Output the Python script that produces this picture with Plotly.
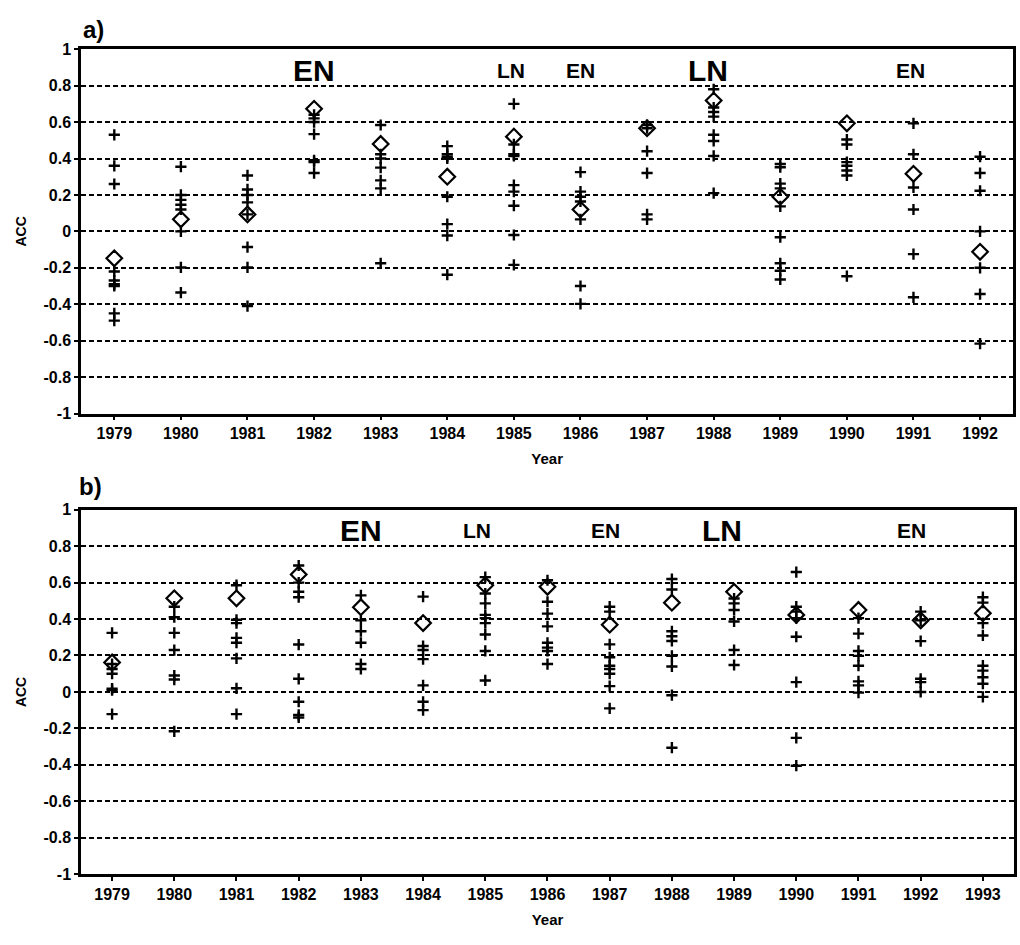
import plotly.graph_objects as go

# ---------------- data: panel a ----------------
years_a = [1979, 1980, 1981, 1982, 1983, 1984, 1985, 1986, 1987, 1988, 1989, 1990, 1991, 1992]
members_a = [
    [0.53, 0.36, 0.26, -0.22, -0.27, -0.29, -0.30, -0.45, -0.49],
    [0.355, 0.20, 0.173, 0.146, 0.12, 0.0, -0.198, -0.336],
    [0.307, 0.23, 0.20, 0.159, 0.093, -0.086, -0.198, -0.41],
    [0.64, 0.62, 0.60, 0.534, 0.39, 0.38, 0.32],
    [0.584, 0.423, 0.40, 0.35, 0.28, 0.236, -0.175],
    [0.468, 0.423, 0.41, 0.40, 0.19, 0.04, -0.023, -0.238],
    [0.70, 0.477, 0.423, 0.414, 0.254, 0.218, 0.141, -0.02, -0.184],
    [0.325, 0.218, 0.19, 0.164, 0.066, -0.30, -0.398],
    [0.584, 0.566, 0.44, 0.32, 0.093, 0.066],
    [0.78, 0.68, 0.655, 0.63, 0.53, 0.496, 0.414, 0.21],
    [0.37, 0.352, 0.262, 0.236, 0.137, -0.032, -0.175, -0.216, -0.264],
    [0.504, 0.477, 0.38, 0.36, 0.334, 0.307, -0.246],
    [0.593, 0.423, 0.241, 0.12, -0.125, -0.362],
    [0.41, 0.32, 0.223, 0.0, -0.20, -0.344, -0.616],
]
mean_a = [-0.148, 0.066, 0.093, 0.673, 0.48, 0.30, 0.52, 0.12, 0.566, 0.718, 0.19, 0.593, 0.316, -0.112]

# ---------------- data: panel b ----------------
years_b = [1979, 1980, 1981, 1982, 1983, 1984, 1985, 1986, 1987, 1988, 1989, 1990, 1991, 1992, 1993]
members_b = [
    [0.324, 0.153, 0.126, 0.10, 0.018, 0.01, -0.122],
    [0.468, 0.41, 0.324, 0.23, 0.09, 0.068, -0.216],
    [0.586, 0.396, 0.378, 0.297, 0.27, 0.184, 0.02, -0.122],
    [0.694, 0.60, 0.55, 0.52, 0.26, 0.072, -0.054, -0.126, -0.14],
    [0.53, 0.393, 0.333, 0.27, 0.153, 0.126],
    [0.523, 0.252, 0.23, 0.18, 0.036, -0.054, -0.10],
    [0.63, 0.54, 0.486, 0.423, 0.405, 0.378, 0.315, 0.225, 0.063],
    [0.613, 0.495, 0.43, 0.36, 0.27, 0.243, 0.225, 0.153],
    [0.468, 0.441, 0.261, 0.19, 0.144, 0.126, 0.10, 0.032, -0.09],
    [0.62, 0.562, 0.333, 0.306, 0.28, 0.198, 0.14, -0.018, -0.306],
    [0.513, 0.486, 0.45, 0.387, 0.23, 0.148],
    [0.658, 0.468, 0.441, 0.405, 0.303, 0.054, -0.252, -0.405],
    [0.405, 0.32, 0.225, 0.198, 0.144, 0.058, 0.036, -0.004],
    [0.441, 0.393, 0.279, 0.072, 0.054, 0.0],
    [0.52, 0.49, 0.378, 0.31, 0.144, 0.117, 0.081, 0.045, -0.027],
]
mean_b = [0.162, 0.514, 0.514, 0.645, 0.465, 0.378, 0.586, 0.577, 0.369, 0.49, 0.55, 0.423, 0.45, 0.393, 0.432]

# ENSO labels: (x position in years, text, big?)
enso_a = [(1982.0, "EN", True), (1984.95, "LN", False), (1986.0, "EN", False),
          (1987.92, "LN", True), (1990.95, "EN", False)]
enso_b = [(1983.0, "EN", True), (1984.87, "LN", False), (1986.93, "EN", False),
          (1988.8, "LN", True), (1991.85, "EN", False)]

yticks = [1, 0.8, 0.6, 0.4, 0.2, 0, -0.2, -0.4, -0.6, -0.8, -1]
yticktext = ["1", "0.8", "0.6", "0.4", "0.2", "0", "-0.2", "-0.4", "-0.6", "-0.8", "-1"]

FONT = "Liberation Sans, Arial, sans-serif"

fig = go.Figure()


def add_panel(years, members, means, xa, ya):
    xs, ys = [], []
    for yr, vals in zip(years, members):
        for v in vals:
            xs.append(yr)
            ys.append(v)
    fig.add_trace(go.Scatter(
        x=xs, y=ys, mode="markers", xaxis=xa, yaxis=ya, showlegend=False,
        marker=dict(symbol="cross-thin", size=8, color="black",
                    line=dict(color="black", width=2.4)),
        hoverinfo="x+y"))
    fig.add_trace(go.Scatter(
        x=years, y=means, mode="markers", xaxis=xa, yaxis=ya, showlegend=False,
        marker=dict(symbol="diamond-open", size=12, color="black",
                    line=dict(color="black", width=2.2)),
        hoverinfo="x+y"))


add_panel(years_a, members_a, mean_a, "x", "y")
add_panel(years_b, members_b, mean_b, "x2", "y2")

axis_common = dict(showline=True, linecolor="black", linewidth=2.5, mirror=True,
                   ticks="outside", ticklen=4, tickwidth=1.5, tickcolor="black",
                   tickfont=dict(family=FONT, size=16, color="black", weight="bold"))

grid_common = dict(showgrid=True, gridcolor="black", gridwidth=1.5, griddash="5px,3px",
                   zeroline=False)

xtitle = dict(text="Year", standoff=13, font=dict(family=FONT, size=15, weight="bold"))
ytitle = dict(text="ACC", standoff=14, font=dict(family=FONT, size=14, weight="bold"))

fig.update_layout(
    width=1020, height=945,
    margin=dict(l=0, r=0, t=0, b=0),
    paper_bgcolor="white", plot_bgcolor="white",
    font=dict(family=FONT, color="black"),
    xaxis=dict(domain=[0.0794, 0.9935], range=[1978.5, 1992.5],
               tickvals=years_a, ticktext=[str(y) for y in years_a],
               showgrid=False, zeroline=False, anchor="y", title=xtitle,
               **axis_common),
    yaxis=dict(domain=[0.5630, 0.9556], range=[-1, 1], anchor="x",
               tickvals=yticks, ticktext=yticktext, title=ytitle,
               **grid_common, **axis_common),
    xaxis2=dict(domain=[0.0794, 0.9941], range=[1978.5, 1993.5],
                tickvals=years_b, ticktext=[str(y) for y in years_b],
                showgrid=False, zeroline=False, anchor="y2", title=xtitle,
                **axis_common),
    yaxis2=dict(domain=[0.0667, 0.4593], range=[-1, 1], anchor="x2",
                tickvals=yticks, ticktext=yticktext, title=ytitle,
                **grid_common, **axis_common),
)

annotations = []
for (xv, txt, big), (xr, yr) in [(e, ("x", "y")) for e in enso_a] + [(e, ("x2", "y2")) for e in enso_b]:
    annotations.append(dict(
        x=xv, y=0.885, xref=xr, yref=yr, text=txt, showarrow=False,
        xanchor="center", yanchor="middle",
        font=dict(family=FONT, size=30 if big else 21, color="black", weight="bold")))

annotations.append(dict(x=93 / 1020, y=1 - 22 / 945, xref="paper", yref="paper",
                        text="a)", showarrow=False, xanchor="center", yanchor="middle",
                        font=dict(family=FONT, size=24, color="black", weight="bold")))
annotations.append(dict(x=90 / 1020, y=1 - 487 / 945, xref="paper", yref="paper",
                        text="b)", showarrow=False, xanchor="center", yanchor="middle",
                        font=dict(family=FONT, size=24, color="black", weight="bold")))
fig.update_layout(annotations=annotations)

fig.write_html("out.html")
